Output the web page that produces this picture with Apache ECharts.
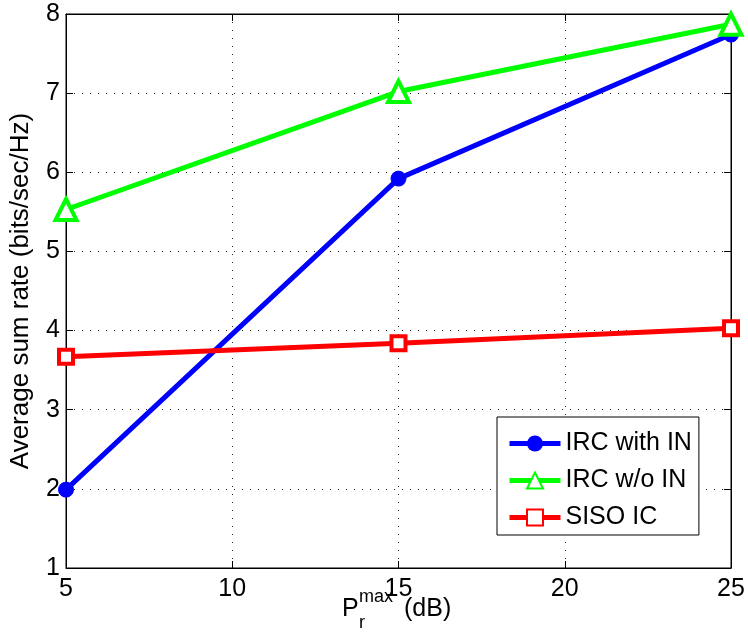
<!DOCTYPE html>
<html>
<head>
<meta charset="utf-8">
<script src="https://cdn.jsdelivr.net/npm/echarts@6/dist/echarts.min.js"></script>
<style>
  html, body { margin: 0; padding: 0; background: #fff; }
  #chart { width: 748px; height: 635px; }
</style>
</head>
<body>
<div id="chart"></div>
<script>
var powerDb = [5, 15, 25];
var ircWithIn = [1.99, 5.92, 7.74];
var ircWithoutIn = [5.53, 7.02, 7.87];
var sisoIc = [3.67, 3.84, 4.03];

var font = 'Liberation Sans, Arial, sans-serif';

var myChart = echarts.init(document.getElementById('chart'));

function pairs(ys) {
  return powerDb.map(function (x, i) { return [x, ys[i]]; });
}

// dotted grid + inward ticks, shared by all axes
var dotted = { lineStyle: { color: '#222', type: [1, 7], width: 1 } };
var tick = { inside: true, length: 7, lineStyle: { color: '#000' } };
var label = { fontSize: 25, fontFamily: font, color: '#000' };

var option = {
  animation: false,
  backgroundColor: '#fff',
  grid: {
    left: 65, right: 17, top: 14, bottom: 67,
    show: true, borderColor: '#000', borderWidth: 1
  },
  xAxis: [
    {
      type: 'value', min: 5, max: 25, interval: 5,
      axisLine: { lineStyle: { color: '#000' } },
      axisTick: tick,
      axisLabel: Object.assign({ margin: 9 }, label),
      splitLine: dotted
    },
    {
      type: 'value', min: 5, max: 25, interval: 5, position: 'top',
      axisLine: { lineStyle: { color: '#000' } },
      axisTick: tick, axisLabel: { show: false }, splitLine: { show: false }
    }
  ],
  yAxis: [
    {
      type: 'value', min: 1, max: 8, interval: 1,
      name: 'Average sum rate (bits/sec/Hz)',
      nameLocation: 'middle', nameGap: 32,
      nameTextStyle: { fontSize: 26, fontFamily: font, color: '#000' },
      axisLine: { lineStyle: { color: '#000' } },
      axisTick: tick,
      axisLabel: Object.assign({ margin: 6 }, label),
      splitLine: dotted
    },
    {
      type: 'value', min: 1, max: 8, interval: 1, position: 'right',
      axisLine: { lineStyle: { color: '#000' } },
      axisTick: tick, axisLabel: { show: false }, splitLine: { show: false }
    }
  ],
  graphic: [
    { type: 'text', left: 342, top: 597, style: { text: 'P', font: '25px ' + font, fill: '#000' } },
    { type: 'text', left: 359, top: 588, style: { text: 'max', font: '18px ' + font, fill: '#000' } },
    { type: 'text', left: 359, top: 614, style: { text: 'r', font: '18px ' + font, fill: '#000' } },
    { type: 'text', left: 404, top: 597, style: { text: '(dB)', font: '25px ' + font, fill: '#000' } }
  ],
  legend: {
    orient: 'vertical',
    left: 497, top: 417,
    backgroundColor: '#fff',
    borderColor: '#000', borderWidth: 1,
    padding: [14, 7, 5, 10],
    itemGap: 12,
    itemWidth: 51, itemHeight: 20,
    lineStyle: { width: 5 },
    textStyle: { fontSize: 25, fontFamily: font, color: '#000' },
    data: ['IRC with IN', 'IRC w/o IN', 'SISO IC']
  },
  series: [
    {
      name: 'IRC with IN', type: 'line', data: pairs(ircWithIn),
      lineStyle: { color: '#0000ff', width: 5 },
      itemStyle: { color: '#0000ff', borderColor: '#0000ff' },
      symbol: 'circle', symbolSize: 15
    },
    {
      name: 'IRC w/o IN', type: 'line', data: pairs(ircWithoutIn),
      lineStyle: { color: '#00ff00', width: 5 },
      itemStyle: { color: '#fff', borderColor: '#00ff00', borderWidth: 4 },
      symbol: 'triangle', symbolSize: 21
    },
    {
      name: 'SISO IC', type: 'line', data: pairs(sisoIc),
      lineStyle: { color: '#ff0000', width: 5 },
      itemStyle: { color: '#fff', borderColor: '#ff0000', borderWidth: 4 },
      symbol: 'rect', symbolSize: 14
    }
  ]
};

myChart.setOption(option);
</script>
</body>
</html>
